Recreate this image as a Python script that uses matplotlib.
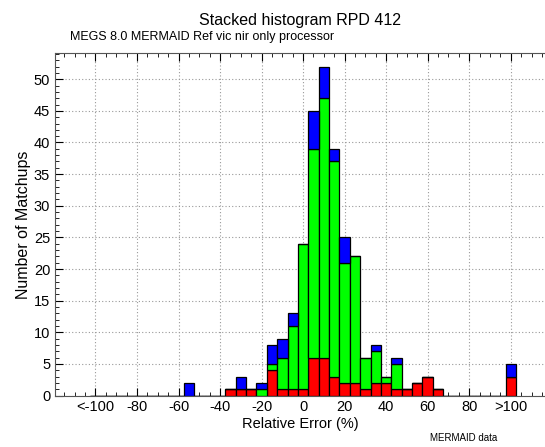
import numpy as np
import matplotlib
matplotlib.use("Agg")
import matplotlib.pyplot as plt
from matplotlib.ticker import MultipleLocator

plt.rcParams['font.family'] = ['Liberation Sans', 'DejaVu Sans']

#Data: counts per 5% bin (bin centres), stacked red / green / blue########################
bin_centres = [-100, -95, -90, -85, -80, -75, -70, -65, -60, -55, -50, -45, -40, -35,
               -30, -25, -20, -15, -10, -5, 0, 5, 10, 15, 20, 25, 30, 35, 40, 45,
               50, 55, 60, 65, 70, 75, 80, 85, 90, 95, 100]
red_counts = [0, 0, 0, 0, 0, 0, 0, 0, 0, 0, 0, 0, 0, 1,
              1, 1, 0, 4, 1, 1, 1, 6, 6, 3, 2, 2, 1, 2, 2, 1,
              1, 2, 3, 1, 0, 0, 0, 0, 0, 0, 3]
green_counts = [0, 0, 0, 0, 0, 0, 0, 0, 0, 0, 0, 0, 0, 0,
                0, 0, 1, 1, 5, 10, 23, 33, 41, 34, 19, 20, 5, 5, 1, 4,
                0, 0, 0, 0, 0, 0, 0, 0, 0, 0, 0]
blue_counts = [0, 0, 0, 0, 0, 0, 0, 0, 0, 2, 0, 0, 0, 0,
               2, 0, 1, 3, 3, 2, 0, 6, 5, 2, 4, 0, 0, 1, 0, 1,
               0, 0, 0, 0, 0, 0, 0, 0, 0, 0, 2]

xtick_pos = [-100, -80, -60, -40, -20, 0, 20, 40, 60, 80, 100]
xtick_labels = ['<-100', '-80', '-60', '-40', '-20', '0', '20', '40', '60', '80', '>100']
ytick_pos = [0, 5, 10, 15, 20, 25, 30, 35, 40, 45, 50]

#Plot####################################################################################
x = np.array(bin_centres)
r = np.array(red_counts)
g = np.array(green_counts)
b = np.array(blue_counts)

fig = plt.figure(figsize=(5.45, 4.47), dpi=100)
ax = fig.add_axes([0.1009, 0.115, 0.8991, 0.7658])

ax.grid(True, which='major', linestyle=(0, (1, 2)), color='#999999', linewidth=0.8)
ax.set_axisbelow(True)

ax.bar(x, r, width=5, color='#ff0000', edgecolor='black', linewidth=0.9)
ax.bar(x, g, width=5, bottom=r, color='#00ff00', edgecolor='black', linewidth=0.9)
ax.bar(x, b, width=5, bottom=r + g, color='#0000ff', edgecolor='black', linewidth=0.9)

ax.set_xlim(-119.5, 116.5)
ax.set_ylim(0, 54.1)
ax.set_xticks(xtick_pos)
ax.set_xticklabels(xtick_labels)
ax.set_yticks(ytick_pos)
ax.xaxis.set_minor_locator(MultipleLocator(5))
ax.yaxis.set_minor_locator(MultipleLocator(1))
ax.tick_params(which='both', direction='in', top=True, right=False, labelsize=10.5)
ax.tick_params(which='major', length=6)
ax.tick_params(which='minor', length=3)
ax.spines['right'].set_visible(False)
for s in ['left', 'bottom', 'top']:
    ax.spines[s].set_color('#555555')

ax.set_xlabel('Relative Error (%)', fontsize=10.5, labelpad=2)
ax.set_ylabel('Number of Matchups', fontsize=11.5, labelpad=2)

fig.text(0.55, 0.955, 'Stacked histogram RPD 412', ha='center', va='center', fontsize=11.5)
fig.text(0.128, 0.918, 'MEGS 8.0 MERMAID Ref vic nir only processor', ha='left', va='center', fontsize=9)
fig.text(0.851, 0.02, 'MERMAID data', ha='center', va='center', fontsize=7)

fig.savefig('out.png', dpi=100)
